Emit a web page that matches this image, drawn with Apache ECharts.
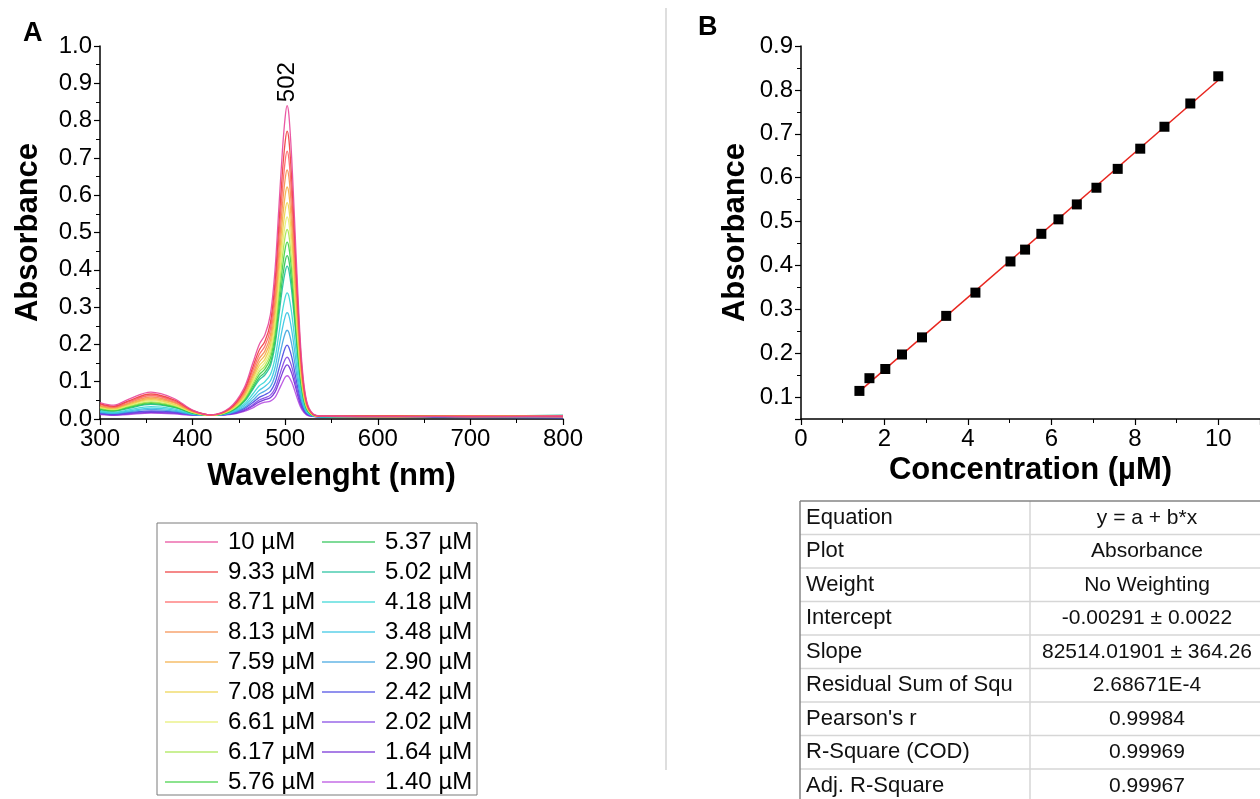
<!DOCTYPE html>
<html>
<head>
<meta charset="utf-8">
<script src="https://cdn.jsdelivr.net/npm/echarts@6/dist/echarts.min.js"></script>
<style>
html, body { margin: 0; padding: 0; background: #fff; }
#main { width: 1260px; height: 799px; }
</style>
</head>
<body>
<div id="main"></div>
<script>
// panel A: spectra, wavelength grid (nm)
const wavelengths = [300, 315, 330, 355, 380, 400, 420, 440, 455, 465, 472, 478, 484, 489, 493, 497, 500, 502, 504, 507, 510, 514, 518, 523, 530, 540, 620, 700, 800];

const concLabels = ['10 µM', '9.33 µM', '8.71 µM', '8.13 µM', '7.59 µM', '7.08 µM', '6.61 µM', '6.17 µM', '5.76 µM',
    '5.37 µM', '5.02 µM', '4.18 µM', '3.48 µM', '2.90 µM', '2.42 µM', '2.02 µM', '1.64 µM', '1.40 µM'];

const s10  = [0.044, 0.037, 0.052, 0.072, 0.055, 0.024, 0.011, 0.030, 0.080, 0.150, 0.200, 0.225, 0.280, 0.400, 0.560, 0.720, 0.810, 0.840, 0.815, 0.700, 0.540, 0.320, 0.150, 0.050, 0.014, 0.008, 0.007, 0.006, 0.008];
const s933 = [0.041, 0.034, 0.048, 0.067, 0.051, 0.023, 0.011, 0.028, 0.074, 0.139, 0.185, 0.208, 0.258, 0.368, 0.515, 0.662, 0.744, 0.772, 0.749, 0.644, 0.497, 0.294, 0.138, 0.046, 0.013, 0.008, 0.008, 0.007, 0.007];
const s871 = [0.039, 0.032, 0.045, 0.063, 0.048, 0.022, 0.011, 0.027, 0.070, 0.130, 0.173, 0.195, 0.241, 0.342, 0.478, 0.615, 0.692, 0.718, 0.696, 0.598, 0.462, 0.274, 0.129, 0.043, 0.013, 0.008, 0.006, 0.008, 0.006];
const s813 = [0.036, 0.031, 0.042, 0.059, 0.045, 0.021, 0.011, 0.026, 0.066, 0.121, 0.162, 0.182, 0.225, 0.319, 0.445, 0.572, 0.644, 0.668, 0.648, 0.557, 0.430, 0.255, 0.120, 0.041, 0.012, 0.007, 0.007, 0.007, 0.009];
const s759 = [0.034, 0.029, 0.040, 0.055, 0.043, 0.020, 0.010, 0.025, 0.062, 0.114, 0.152, 0.171, 0.210, 0.297, 0.415, 0.533, 0.600, 0.622, 0.604, 0.519, 0.401, 0.238, 0.112, 0.038, 0.012, 0.007, 0.009, 0.006, 0.007];
const s708 = [0.033, 0.027, 0.038, 0.052, 0.040, 0.019, 0.010, 0.024, 0.058, 0.107, 0.143, 0.160, 0.197, 0.277, 0.387, 0.497, 0.559, 0.580, 0.563, 0.484, 0.374, 0.222, 0.105, 0.036, 0.011, 0.007, 0.006, 0.008, 0.008];
const s661 = [0.031, 0.026, 0.036, 0.049, 0.038, 0.018, 0.010, 0.023, 0.055, 0.101, 0.134, 0.151, 0.184, 0.259, 0.361, 0.464, 0.522, 0.542, 0.526, 0.452, 0.350, 0.208, 0.099, 0.034, 0.011, 0.007, 0.008, 0.007, 0.006];
const s617 = [0.029, 0.025, 0.034, 0.046, 0.036, 0.018, 0.010, 0.022, 0.052, 0.095, 0.127, 0.142, 0.174, 0.243, 0.338, 0.435, 0.490, 0.508, 0.493, 0.424, 0.328, 0.195, 0.093, 0.032, 0.011, 0.007, 0.007, 0.009, 0.007];
const s576 = [0.028, 0.023, 0.032, 0.044, 0.034, 0.017, 0.010, 0.021, 0.050, 0.089, 0.119, 0.134, 0.163, 0.227, 0.316, 0.405, 0.457, 0.474, 0.460, 0.396, 0.306, 0.182, 0.087, 0.030, 0.010, 0.007, 0.006, 0.007, 0.009];
const s537 = [0.026, 0.022, 0.030, 0.041, 0.032, 0.016, 0.010, 0.020, 0.047, 0.083, 0.111, 0.125, 0.151, 0.210, 0.292, 0.375, 0.423, 0.438, 0.425, 0.366, 0.284, 0.169, 0.081, 0.028, 0.010, 0.007, 0.008, 0.006, 0.008];
const s502 = [0.025, 0.021, 0.028, 0.039, 0.031, 0.016, 0.010, 0.019, 0.044, 0.079, 0.105, 0.118, 0.142, 0.197, 0.273, 0.351, 0.395, 0.410, 0.398, 0.343, 0.266, 0.158, 0.076, 0.027, 0.010, 0.006, 0.009, 0.008, 0.010];
const s418 = [0.022, 0.018, 0.024, 0.033, 0.027, 0.014, 0.010, 0.018, 0.038, 0.067, 0.089, 0.100, 0.119, 0.163, 0.225, 0.289, 0.326, 0.338, 0.329, 0.284, 0.220, 0.132, 0.063, 0.023, 0.009, 0.006, 0.007, 0.009, 0.008];
const s348 = [0.020, 0.016, 0.021, 0.029, 0.024, 0.013, 0.010, 0.016, 0.034, 0.058, 0.077, 0.087, 0.102, 0.138, 0.190, 0.243, 0.275, 0.285, 0.277, 0.239, 0.186, 0.111, 0.054, 0.020, 0.009, 0.006, 0.008, 0.007, 0.009];
const s290 = [0.017, 0.015, 0.019, 0.026, 0.021, 0.012, 0.010, 0.015, 0.030, 0.050, 0.067, 0.075, 0.087, 0.116, 0.159, 0.203, 0.230, 0.238, 0.232, 0.201, 0.156, 0.094, 0.046, 0.018, 0.008, 0.006, 0.006, 0.008, 0.007];
const s242 = [0.016, 0.013, 0.017, 0.022, 0.019, 0.012, 0.010, 0.014, 0.027, 0.044, 0.058, 0.065, 0.074, 0.097, 0.132, 0.168, 0.191, 0.198, 0.192, 0.167, 0.130, 0.079, 0.039, 0.015, 0.008, 0.006, 0.005, 0.004, 0.003];
const s202 = [0.014, 0.012, 0.015, 0.020, 0.017, 0.011, 0.010, 0.013, 0.024, 0.038, 0.051, 0.057, 0.064, 0.082, 0.110, 0.141, 0.160, 0.166, 0.161, 0.141, 0.110, 0.067, 0.034, 0.014, 0.007, 0.006, 0.006, 0.005, 0.006];
const s164 = [0.013, 0.011, 0.014, 0.018, 0.016, 0.011, 0.010, 0.013, 0.022, 0.035, 0.046, 0.052, 0.057, 0.072, 0.096, 0.123, 0.140, 0.145, 0.141, 0.123, 0.097, 0.059, 0.030, 0.013, 0.007, 0.006, 0.005, 0.006, 0.004];
const s140 = [0.012, 0.010, 0.012, 0.016, 0.014, 0.010, 0.010, 0.012, 0.020, 0.030, 0.040, 0.045, 0.048, 0.058, 0.077, 0.098, 0.112, 0.116, 0.113, 0.099, 0.078, 0.048, 0.025, 0.011, 0.007, 0.006, 0.007, 0.006, 0.008];

const spectra = [s10, s933, s871, s813, s759, s708, s661, s617, s576, s537, s502, s418, s348, s290, s242, s202, s164, s140];

const lineColors = ['#e8479a', '#ef3b3b', '#ff6262', '#f58e4c', '#f4ae44', '#ecd44c', '#e6ee70', '#a6e64e', '#3fd043', '#2ac353',
    '#1fbf9c', '#35d6d6', '#33c4e2', '#3ea4e0', '#4848e2', '#8142e2', '#6f2ad6', '#b64ae0'];

// panel B: calibration
const concB = [1.40, 1.64, 2.02, 2.42, 2.90, 3.48, 4.18, 5.02, 5.37, 5.76, 6.17, 6.61, 7.08, 7.59, 8.13, 8.71, 9.33, 10];
const absB  = [0.114, 0.143, 0.164, 0.197, 0.236, 0.285, 0.338, 0.409, 0.436, 0.472, 0.505, 0.539, 0.577, 0.620, 0.666, 0.716, 0.769, 0.831];
const fitX = [1.40, 10];
const fitY = [0.113, 0.822];

// fit table
const tableNames  = ['Equation', 'Plot', 'Weight', 'Intercept', 'Slope', 'Residual Sum of Squ', "Pearson's r", 'R-Square (COD)', 'Adj. R-Square'];
const tableValues = ['y = a + b*x', 'Absorbance', 'No Weighting', '-0.00291 ± 0.0022', '82514.01901 ± 364.26', '2.68671E-4', '0.99984', '0.99969', '0.99967'];

const FONT = '"Liberation Sans", Arial, sans-serif';

var myChart = echarts.init(document.getElementById('main'), null, { renderer: 'canvas' });

function axisBase (extra) {
    let base = {
        type: 'value',
        nameLocation: 'middle',
        nameTextStyle: { fontSize: 31, fontWeight: 'bold', color: '#000', fontFamily: FONT },
        axisLine: { show: true, onZero: false, lineStyle: { color: '#000', width: 1.5 } },
        axisTick: { show: true, length: 6, lineStyle: { color: '#000', width: 1.2 } },
        minorTick: { show: true, splitNumber: 2, length: 4, lineStyle: { color: '#000', width: 1 } },
        axisLabel: { fontSize: 24, color: '#000', fontFamily: FONT, margin: 8 },
        splitLine: { show: false }
    };
    return Object.assign(base, extra);
}

let series = spectra.map((vals, i) => ({
    name: concLabels[i],
    type: 'line',
    xAxisIndex: 0,
    yAxisIndex: 0,
    data: wavelengths.map((w, j) => [w, vals[j]]),
    symbol: 'none',
    smooth: 0.35,
    lineStyle: { width: 1.3, color: lineColors[i], opacity: 0.9 },
    itemStyle: { color: lineColors[i] },
    z: 20 - i
}));

// peak annotation
series[0].markPoint = {
    symbol: 'rect',
    symbolSize: 1,
    itemStyle: { color: 'rgba(0,0,0,0)' },
    data: [{ coord: [502, 0.840], value: 502 }],
    label: {
        show: true, formatter: '502', position: 'top', distance: 3, rotate: 90,
        align: 'left', verticalAlign: 'middle', fontSize: 24, color: '#000', fontFamily: FONT
    }
};

series.push({
    name: 'fit',
    type: 'line',
    xAxisIndex: 1,
    yAxisIndex: 1,
    data: fitX.map((x, i) => [x, fitY[i]]),
    symbol: 'none',
    lineStyle: { color: '#e8261f', width: 1.5 },
    z: 5
});
series.push({
    name: 'Absorbance',
    type: 'scatter',
    xAxisIndex: 1,
    yAxisIndex: 1,
    data: concB.map((x, i) => [x, absB[i]]),
    symbol: 'rect',
    symbolSize: 10,
    itemStyle: { color: '#000', opacity: 1 },
    z: 10
});

// table graphics
let graphics = [];
const tTop = 501, rowH = 33.5, tLeft = 800, colX = 1030;
graphics.push({ type: 'line', shape: { x1: 666, y1: 8, x2: 666, y2: 770 }, style: { stroke: '#bdbdbd', lineWidth: 1 } });
graphics.push({ type: 'text', left: 23, top: 20, style: { text: 'A', fontSize: 27, fontWeight: 'bold', fill: '#000', fontFamily: FONT } });
graphics.push({ type: 'text', left: 698, top: 14, style: { text: 'B', fontSize: 27, fontWeight: 'bold', fill: '#000', fontFamily: FONT } });
graphics.push({ type: 'rect', shape: { x: 157, y: 523, width: 320, height: 272 }, style: { fill: 'none', stroke: '#7a7a7a', lineWidth: 1 } });
for (let i = 1; i <= tableNames.length; i++) {
    graphics.push({ type: 'line', shape: { x1: tLeft, y1: tTop + rowH * i, x2: 1260, y2: tTop + rowH * i }, style: { stroke: '#d6d6d6', lineWidth: 1.5 } });
}
graphics.push({ type: 'line', shape: { x1: colX, y1: tTop, x2: colX, y2: 799 }, style: { stroke: '#d6d6d6', lineWidth: 1.5 } });
graphics.push({ type: 'line', shape: { x1: tLeft, y1: tTop, x2: 1260, y2: tTop }, style: { stroke: '#858585', lineWidth: 1.5 } });
graphics.push({ type: 'line', shape: { x1: tLeft, y1: tTop, x2: tLeft, y2: 799 }, style: { stroke: '#858585', lineWidth: 1.5 } });
tableNames.forEach((name, i) => {
    let cy = tTop + rowH * (i + 0.5);
    graphics.push({ type: 'text', x: 806, y: cy, style: { text: name, fontSize: 22, fill: '#111', fontFamily: FONT, textAlign: 'left', textVerticalAlign: 'middle' } });
    graphics.push({ type: 'text', x: 1147, y: cy, style: { text: tableValues[i], fontSize: 21, fill: '#111', fontFamily: FONT, textAlign: 'center', textVerticalAlign: 'middle' } });
});

var option = {
    backgroundColor: '#fff',
    animation: false,
    textStyle: { fontFamily: FONT },
    grid: [
        { left: 100, top: 46, width: 463, height: 373 },
        { left: 801, top: 46, width: 464.2, height: 373 }
    ],
    legend: {
        data: concLabels,
        orient: 'vertical',
        left: 160,
        top: 525,
        height: 268,
        icon: 'rect',
        itemWidth: 53,
        itemHeight: 2,
        itemGap: 6,
        selectedMode: false,
        itemStyle: { opacity: 0.6 },
        textStyle: { fontSize: 24, color: '#000', fontFamily: FONT, padding: [0, 0, 0, 5], width: 88, lineHeight: 24 }
    },
    xAxis: [
        axisBase({ gridIndex: 0, min: 300, max: 800, interval: 100, name: 'Wavelenght (nm)', nameGap: 42 }),
        axisBase({ gridIndex: 1, min: 0, max: 11, interval: 2, name: 'Concentration (µM)', nameGap: 36,
            axisLabel: { fontSize: 24, color: '#000', fontFamily: FONT, margin: 8, showMaxLabel: false } })
    ],
    yAxis: [
        axisBase({ gridIndex: 0, min: 0, max: 1.0, interval: 0.1, name: 'Absorbance', nameGap: 56,
            axisLabel: { fontSize: 24, color: '#000', fontFamily: FONT, margin: 8, formatter: v => v.toFixed(1) } }),
        axisBase({ gridIndex: 1, min: 0.05, max: 0.9, splitNumber: 9, name: 'Absorbance', nameGap: 50,
            axisLabel: { fontSize: 24, color: '#000', fontFamily: FONT, margin: 8, showMinLabel: false, formatter: v => v.toFixed(1) } })
    ],
    series: series,
    graphic: graphics
};
myChart.setOption(option);
</script>
</body>
</html>
